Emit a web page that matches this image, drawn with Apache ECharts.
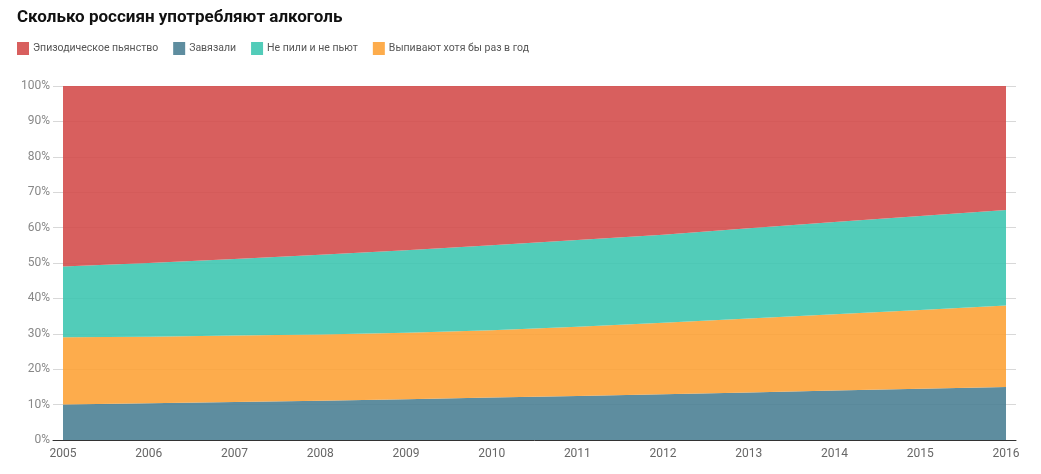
<!DOCTYPE html>
<html><head><meta charset="utf-8">
<script src="https://cdn.jsdelivr.net/npm/echarts@6/dist/echarts.min.js"></script>
<style>html,body{margin:0;padding:0;background:#fff}#c{width:1041px;height:474px}</style>
</head><body><div id="c"></div>
<script>
const years = ['2005','2006','2007','2008','2009','2010','2011','2012','2013','2014','2015','2016'];
const quit = [10.0,10.4,10.7,11.1,11.5,12.0,12.4,12.9,13.4,14.0,14.5,15.0];
const yearly = [19.0,18.8,18.8,18.7,18.8,19.0,19.6,20.2,20.9,21.5,22.2,23.0];
const never = [20.0,20.8,21.6,22.5,23.3,24.0,24.5,24.9,25.5,26.1,26.6,27.0];
const binge = [51.0,50.0,48.9,47.7,46.4,45.0,43.5,42.0,40.2,38.4,36.7,35.0];
const names = ['Эпизодическое пьянство','Завязали','Не пили и не пьют','Выпивают хотя бы раз в год'];
const colors = {binge:'#d44e4d', quit:'#4c8195', never:'#3fc7b1', yearly:'#fda338'};

const chart = echarts.init(document.getElementById('c'));
const font = 'Roboto, Arial, sans-serif';
const mk = (name, data, color) => ({
  name, type:'line', stack:'total', data, xAxisIndex:1, yAxisIndex:1,
  symbol:'none', lineStyle:{width:0}, itemStyle:{color},
  areaStyle:{color, opacity:0.9}, emphasis:{disabled:true}
});
chart.setOption({
  animation:false,
  textStyle:{fontFamily:font},
  title:{text:'Сколько россиян употребляют алкоголь', left:17, top:9, padding:0,
    textStyle:{fontSize:17, fontWeight:'bold', color:'#111', fontFamily:font}},
  legend:{data:names, left:17, top:42, padding:0, itemWidth:12, itemHeight:13, itemGap:15,
    icon:'rect', itemStyle:{opacity:0.9},
    textStyle:{fontSize:10.5, color:'#555', fontFamily:font, padding:[0,0,0,-1]}},
  grid:[
    {left:53, right:25, top:86, bottom:34, containLabel:false},
    {left:63, right:35, top:86, bottom:34, containLabel:false}
  ],
  xAxis:[
    {gridIndex:0, type:'category', data:['a'], axisLine:{show:true, lineStyle:{color:'#333', width:1}},
      axisTick:{show:false}, axisLabel:{show:false}, splitLine:{show:false}},
    {gridIndex:1, type:'category', data:years, boundaryGap:false,
      axisLine:{show:false}, axisTick:{show:false},
      axisLabel:{color:'#666', fontSize:12, margin:8, fontFamily:font}, splitLine:{show:false}}
  ],
  yAxis:[
    {gridIndex:0, type:'value', min:0, max:100, interval:10,
      axisLine:{show:false}, axisTick:{show:false},
      axisLabel:{formatter:'{value}%', color:'#888', fontSize:12, margin:3, fontFamily:font},
      splitLine:{lineStyle:{color:'#d8d8d8', width:1}}},
    {gridIndex:1, type:'value', min:0, max:100, interval:10, show:false, splitLine:{show:false}}
  ],
  series:[
    mk(names[1], quit, colors.quit),
    mk(names[3], yearly, colors.yearly),
    mk(names[2], never, colors.never),
    mk(names[0], binge, colors.binge)
  ]
});
</script></body></html>
